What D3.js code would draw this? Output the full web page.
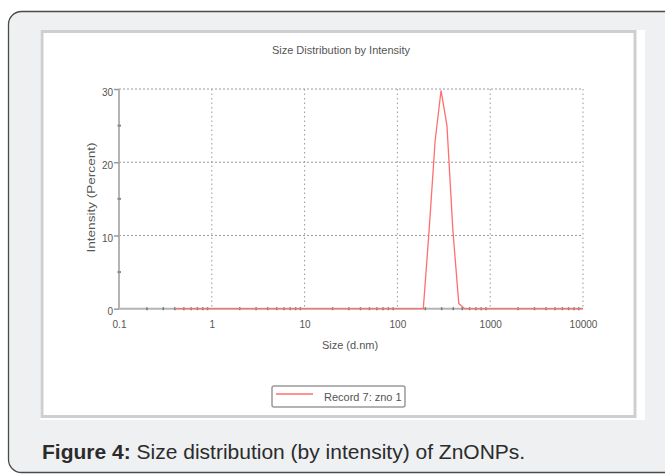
<!DOCTYPE html>
<html lang="en">
<head>
    <meta charset="utf-8">
    <title>Size Distribution by Intensity</title>
    <script src="https://cdn.jsdelivr.net/npm/d3@7"></script>
    <style>
        body { margin: 0; background: #ffffff; }
        svg { display: block; font-family: "Liberation Sans", Arial, sans-serif; }
    </style>
</head>
<body>

<div id="chart"></div>

<script>
    // size bins (d.nm) as exported by the instrument
    const sizes = [0.4, 0.4632, 0.5365, 0.6213, 0.7195, 0.8332, 0.9649, 1.117, 1.294, 1.499,
        1.736, 2.01, 2.328, 2.696, 3.122, 3.615, 4.187, 4.849, 5.615, 6.503,
        7.531, 8.721, 10.1, 11.7, 13.54, 15.69, 18.17, 21.04, 24.36, 28.21,
        32.67, 37.84, 43.82, 50.75, 58.77, 68.06, 78.82, 91.28, 105.7, 122.4,
        141.8, 164.2, 190.1, 220.2, 255.0, 295.3, 342.0, 396.1, 458.7, 531.2,
        615.1, 712.4, 825.0, 955.4, 1106, 1281, 1484, 1718, 1990, 2305,
        2669, 3091, 3580, 4145, 4801, 5560, 6439, 7456, 8635, 10000];

    // intensity (percent) per bin, record 7: zno 1
    const intensity = [0, 0, 0, 0, 0, 0, 0, 0, 0, 0,
        0, 0, 0, 0, 0, 0, 0, 0, 0, 0,
        0, 0, 0, 0, 0, 0, 0, 0, 0, 0,
        0, 0, 0, 0, 0, 0, 0, 0, 0, 0,
        0, 0, 0, 10.9, 22.9, 29.8, 25.0, 10.7, 0.7, 0,
        0, 0, 0, 0, 0, 0, 0, 0, 0, 0,
        0, 0, 0, 0, 0, 0, 0, 0, 0, 0];

    const xTicks = [0.1, 1, 10, 100, 1000, 10000];
    const xTickLabels = ["0.1", "1", "10", "100", "1000", "10000"];
    const xMinorTicks = [0.2, 0.3, 0.4, 0.5, 0.6, 0.7, 0.8, 0.9,
        2, 3, 4, 5, 6, 7, 8, 9,
        20, 30, 40, 50, 60, 70, 80, 90,
        200, 300, 400, 500, 600, 700, 800, 900,
        2000, 3000, 4000, 5000, 6000, 7000, 8000, 9000];
    const yTicks = [0, 10, 20, 30];
    const yMinorTicks = [5, 15, 25];

    const seriesName = "Record 7: zno 1";
    const title = "Size Distribution by Intensity";
    const xTitle = "Size (d.nm)";
    const yTitle = "Intensity (Percent)";
    const caption = "Size distribution (by intensity) of ZnONPs.";

    const W = 665, H = 475;
    const margin = {top: 89, right: 82, bottom: 167, left: 119};
    const width = W - margin.left - margin.right;
    const height = H - margin.top - margin.bottom + 0.7;

    const svg = d3.select("#chart")
        .append("svg")
            .attr("width", W)
            .attr("height", H);

    // page panel behind the figure
    svg.append("rect")
        .attr("x", 8.5).attr("y", 11.5)
        .attr("width", 680).attr("height", 461)
        .attr("rx", 13)
        .attr("fill", "#eef0f2")
        .attr("stroke", "#4a4a4a")
        .attr("stroke-width", 1.3);

    // white picture area with its grey frame
    svg.append("rect")
        .attr("x", 40).attr("y", 30)
        .attr("width", 605).attr("height", 390)
        .attr("fill", "#ffffff");
    svg.append("rect")
        .attr("x", 42).attr("y", 31.5)
        .attr("width", 593).attr("height", 385)
        .attr("fill", "none")
        .attr("stroke", "#cfcfcf")
        .attr("stroke-width", 3);

    // caption
    const cap = svg.append("text")
        .attr("x", 42)
        .attr("y", 459)
        .style("font-size", "21px")
        .attr("fill", "#2b2b2b");
    cap.append("tspan").style("font-weight", "bold").text("Figure 4:");
    cap.append("tspan").text(" " + caption);

    const g = svg.append("g")
        .attr("transform", "translate(" + margin.left + "," + margin.top + ")");

    const x = d3.scaleLog()
        .domain([0.1, 10000])
        .range([0, width]);

    const y = d3.scaleLinear()
        .domain([0, 30])
        .range([height, 0]);

    // vertical grid (dotted)
    g.append("g")
        .selectAll("line")
        .data(xTicks.slice(1))
        .enter()
        .append("line")
            .attr("x1", d => x(d)).attr("x2", d => x(d))
            .attr("y1", 0).attr("y2", height)
            .attr("stroke", "#9a9a9a")
            .attr("stroke-width", 1)
            .attr("stroke-dasharray", "1.5,3");

    // horizontal grid (dashed)
    g.append("g")
        .selectAll("line")
        .data(yTicks.slice(1))
        .enter()
        .append("line")
            .attr("x1", 0).attr("x2", width)
            .attr("y1", d => y(d)).attr("y2", d => y(d))
            .attr("stroke", "#9a9a9a")
            .attr("stroke-width", 1)
            .attr("stroke-dasharray", "2,2");

    // axes lines
    g.append("line")
        .attr("x1", 0).attr("x2", 0)
        .attr("y1", 0).attr("y2", height)
        .attr("stroke", "#b4b4b4")
        .attr("stroke-width", 2);
    g.append("line")
        .attr("x1", 0).attr("x2", width)
        .attr("y1", height).attr("y2", height)
        .attr("stroke", "#b4b4b4")
        .attr("stroke-width", 2);

    // x axis labels
    const xAxis = g.append("g")
        .attr("transform", "translate(0," + height + ")")
        .call(d3.axisBottom(x)
            .tickValues(xTicks)
            .tickSize(0)
            .tickPadding(12)
            .tickFormat((d, i) => xTickLabels[i]));
    xAxis.select(".domain").remove();
    xAxis.selectAll("text")
        .style("font-size", "10px")
        .style("font-family", "Liberation Sans, Arial, sans-serif")
        .attr("fill", "#555");

    // x minor ticks
    g.append("g")
        .selectAll("line")
        .data(xMinorTicks)
        .enter()
        .append("line")
            .attr("x1", d => x(d)).attr("x2", d => x(d))
            .attr("y1", height - 1.5).attr("y2", height + 1.5)
            .attr("stroke", "#777")
            .attr("stroke-width", 1.5);

    // y axis labels
    const yAxis = g.append("g")
        .call(d3.axisLeft(y)
            .tickValues(yTicks)
            .tickSize(5)
            .tickPadding(1));
    yAxis.select(".domain").remove();
    yAxis.selectAll("line").attr("stroke", "#999").attr("stroke-width", 1.5);
    yAxis.selectAll("text")
        .style("font-size", "10px")
        .style("font-family", "Liberation Sans, Arial, sans-serif")
        .attr("fill", "#555")
        .attr("dy", "0.6em");

    // y minor ticks
    g.append("g")
        .selectAll("line")
        .data(yMinorTicks)
        .enter()
        .append("line")
            .attr("x1", -1.5).attr("x2", 2)
            .attr("y1", d => y(d)).attr("y2", d => y(d))
            .attr("stroke", "#888")
            .attr("stroke-width", 2);

    // distribution line
    const data = sizes.map((s, i) => ({size: s, value: intensity[i]}));
    g.append("path")
        .datum(data)
        .attr("fill", "none")
        .attr("stroke", "#ff6f6f")
        .attr("stroke-width", 1.3)
        .attr("d", d3.line()
            .x(d => x(d.size))
            .y(d => y(d.value)));

    // chart title
    svg.append("text")
        .attr("x", 341)
        .attr("y", 54)
        .attr("text-anchor", "middle")
        .style("font-size", "11px")
        .attr("fill", "#555")
        .text(title);

    // x axis title
    svg.append("text")
        .attr("x", 350)
        .attr("y", 349)
        .attr("text-anchor", "middle")
        .style("font-size", "11px")
        .attr("fill", "#555")
        .text(xTitle);

    // y axis title
    svg.append("text")
        .attr("transform", "translate(95,197.5) rotate(-90)")
        .attr("text-anchor", "middle")
        .attr("textLength", 110)
        .attr("lengthAdjust", "spacingAndGlyphs")
        .style("font-size", "11px")
        .attr("fill", "#555")
        .text(yTitle);

    // legend
    const legend = svg.append("g").attr("transform", "translate(272,386)");
    legend.append("rect")
        .attr("width", 133).attr("height", 21)
        .attr("rx", 2)
        .attr("fill", "#ffffff")
        .attr("stroke", "#9a9a9a")
        .attr("stroke-width", 1.5);
    legend.append("line")
        .attr("x1", 4).attr("x2", 41)
        .attr("y1", 8).attr("y2", 8)
        .attr("stroke", "#ff6f6f")
        .attr("stroke-width", 1.3);
    legend.append("text")
        .attr("x", 52)
        .attr("y", 15)
        .style("font-size", "11px")
        .attr("fill", "#555")
        .text(seriesName);
</script>

</body>
</html>
